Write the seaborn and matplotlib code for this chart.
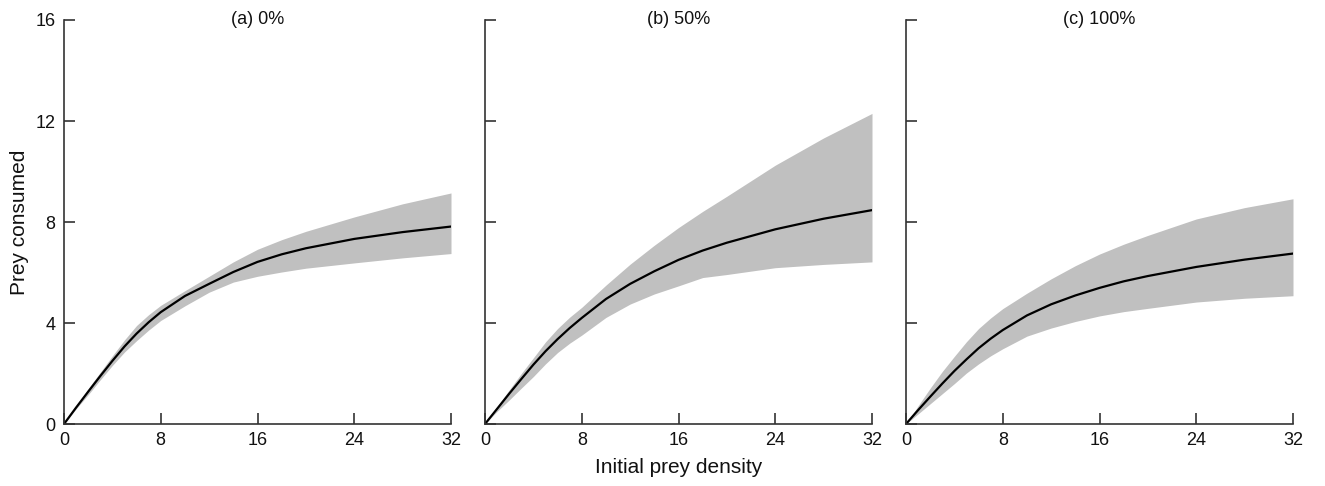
import matplotlib
matplotlib.use("Agg")
import matplotlib.pyplot as plt
import seaborn as sns
import pandas as pd

# ---- data ----
density = [0, 1, 2, 3, 4, 5, 6, 7, 8, 10, 12, 14, 16, 18, 20, 24, 28, 32]

mean_a  = [0, 0.65, 1.28, 1.90, 2.50, 3.07, 3.58, 4.03, 4.43, 5.07, 5.55, 6.02, 6.42, 6.72, 6.96, 7.33, 7.60, 7.82]
upper_a = [0, 0.70, 1.40, 2.05, 2.70, 3.33, 3.90, 4.33, 4.70, 5.28, 5.85, 6.42, 6.92, 7.30, 7.63, 8.20, 8.72, 9.15]
lower_a = [0, 0.60, 1.16, 1.75, 2.32, 2.85, 3.30, 3.72, 4.10, 4.68, 5.22, 5.62, 5.85, 6.02, 6.17, 6.38, 6.58, 6.75]

mean_b  = [0, 0.60, 1.20, 1.78, 2.35, 2.88, 3.36, 3.80, 4.20, 4.95, 5.55, 6.05, 6.50, 6.87, 7.18, 7.71, 8.13, 8.47]
upper_b = [0, 0.68, 1.35, 2.00, 2.62, 3.25, 3.78, 4.23, 4.62, 5.50, 6.33, 7.08, 7.78, 8.42, 9.02, 10.25, 11.33, 12.30]
lower_b = [0, 0.50, 0.95, 1.42, 1.88, 2.38, 2.83, 3.20, 3.52, 4.22, 4.75, 5.15, 5.47, 5.80, 5.92, 6.19, 6.32, 6.42]

mean_c  = [0, 0.55, 1.08, 1.60, 2.10, 2.56, 3.00, 3.38, 3.72, 4.30, 4.74, 5.09, 5.39, 5.65, 5.86, 6.22, 6.51, 6.75]
upper_c = [0, 0.72, 1.42, 2.08, 2.68, 3.26, 3.78, 4.20, 4.57, 5.18, 5.75, 6.27, 6.73, 7.12, 7.47, 8.12, 8.57, 8.92]
lower_c = [0, 0.40, 0.80, 1.20, 1.60, 2.02, 2.38, 2.70, 2.98, 3.48, 3.80, 4.06, 4.28, 4.45, 4.58, 4.83, 4.98, 5.08]

titles = ["(a) 0%", "(b) 50%", "(c) 100%"]
x_ticks = [0, 8, 16, 24, 32]
y_ticks = [0, 4, 8, 12, 16]

panels = [(mean_a, upper_a, lower_a), (mean_b, upper_b, lower_b), (mean_c, upper_c, lower_c)]

sns.set_style("ticks")
plt.rcParams["font.family"] = ["Liberation Sans", "DejaVu Sans"]
plt.rcParams["xtick.direction"] = "in"
plt.rcParams["ytick.direction"] = "in"

fig = plt.figure(figsize=(13.25, 4.86), dpi=100)
lefts = [64, 485, 906]
axw = 387 / 1325
bottom = 1 - 424 / 486
axh = (424 - 20) / 486

spine_col = "#333333"
for i, (m, u, l) in enumerate(panels):
    ax = fig.add_axes([lefts[i] / 1325, bottom, axw, axh])
    df = pd.DataFrame({"density": density, "mean": m, "upper": u, "lower": l})
    ax.fill_between(df["density"], df["lower"], df["upper"], color="#c0c0c0", lw=0, zorder=1)
    sns.lineplot(data=df, x="density", y="mean", ax=ax, color="black", lw=1.6, zorder=2)
    ax.set_xlim(0, 32)
    ax.set_ylim(0, 16)
    ax.set_xticks(x_ticks)
    ax.set_yticks(y_ticks)
    ax.set_xlabel("")
    ax.set_ylabel("")
    for s in ["top", "right"]:
        ax.spines[s].set_visible(False)
    for s in ["left", "bottom"]:
        ax.spines[s].set_color(spine_col)
        ax.spines[s].set_linewidth(1.2)
    ax.tick_params(axis="both", length=8, width=1.2, color=spine_col,
                   labelsize=13, labelcolor="#111111", pad=6)
    if i > 0:
        ax.set_yticklabels([])
    ax.text(0.5, 1.0, titles[i], transform=ax.transAxes, ha="center", va="center",
            fontsize=13, color="#111111")
    if i == 0:
        ax.set_ylabel("Prey consumed", fontsize=15, color="#111111", labelpad=5)
    if i == 1:
        ax.set_xlabel("Initial prey density", fontsize=15, color="#111111", labelpad=6)

fig.savefig("out.png", dpi=100)
